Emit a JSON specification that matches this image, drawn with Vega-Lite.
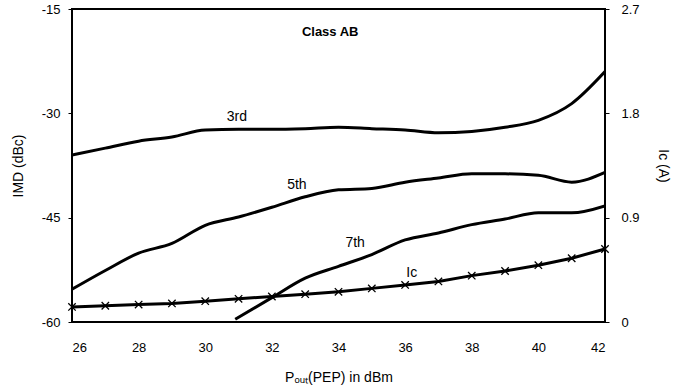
{
  "$schema": "https://vega.github.io/schema/vega-lite/v6.json",
  "width": 533,
  "height": 313,
  "autosize": "none",
  "padding": {"left": 72, "top": 9, "right": 68, "bottom": 70},
  "background": "white",
  "config": {
    "font": "Liberation Sans",
    "view": {"stroke": "black", "strokeWidth": 2},
    "axis": {"labelFontSize": 13, "titleFontSize": 14, "titleFontWeight": "normal", "labelColor": "black", "titleColor": "black", "grid": false, "domainColor": "black", "domainWidth": 2, "tickColor": "black"}
  },
  "datasets": {
    "imd": [
      {"x": 26, "s": "3rd", "v": -36.0}, {"x": 27, "s": "3rd", "v": -35.0}, {"x": 28, "s": "3rd", "v": -34.0}, {"x": 29, "s": "3rd", "v": -33.4}, {"x": 30, "s": "3rd", "v": -32.4}, {"x": 31, "s": "3rd", "v": -32.3}, {"x": 32, "s": "3rd", "v": -32.3}, {"x": 33, "s": "3rd", "v": -32.2}, {"x": 34, "s": "3rd", "v": -32.0}, {"x": 35, "s": "3rd", "v": -32.2}, {"x": 36, "s": "3rd", "v": -32.4}, {"x": 37, "s": "3rd", "v": -32.8}, {"x": 38, "s": "3rd", "v": -32.6}, {"x": 39, "s": "3rd", "v": -32.0}, {"x": 40, "s": "3rd", "v": -31.0}, {"x": 41, "s": "3rd", "v": -28.6}, {"x": 42, "s": "3rd", "v": -24.0},
      {"x": 26, "s": "5th", "v": -55.3}, {"x": 27, "s": "5th", "v": -52.6}, {"x": 28, "s": "5th", "v": -50.1}, {"x": 29, "s": "5th", "v": -48.7}, {"x": 30, "s": "5th", "v": -46.1}, {"x": 31, "s": "5th", "v": -44.9}, {"x": 32, "s": "5th", "v": -43.5}, {"x": 33, "s": "5th", "v": -42.0}, {"x": 34, "s": "5th", "v": -41.0}, {"x": 35, "s": "5th", "v": -40.8}, {"x": 36, "s": "5th", "v": -39.9}, {"x": 37, "s": "5th", "v": -39.3}, {"x": 38, "s": "5th", "v": -38.7}, {"x": 39, "s": "5th", "v": -38.7}, {"x": 40, "s": "5th", "v": -38.9}, {"x": 41, "s": "5th", "v": -39.9}, {"x": 42, "s": "5th", "v": -38.5},
      {"x": 30.9, "s": "7th", "v": -59.6}, {"x": 32, "s": "7th", "v": -56.5}, {"x": 33, "s": "7th", "v": -53.7}, {"x": 34, "s": "7th", "v": -52.0}, {"x": 35, "s": "7th", "v": -50.3}, {"x": 36, "s": "7th", "v": -48.2}, {"x": 37, "s": "7th", "v": -47.2}, {"x": 38, "s": "7th", "v": -46.0}, {"x": 39, "s": "7th", "v": -45.2}, {"x": 40, "s": "7th", "v": -44.3}, {"x": 41, "s": "7th", "v": -44.3}, {"x": 42, "s": "7th", "v": -43.3}
    ],
    "ic": [
      {"x": 26, "ic": 0.13}, {"x": 27, "ic": 0.14}, {"x": 28, "ic": 0.15}, {"x": 29, "ic": 0.16}, {"x": 30, "ic": 0.18}, {"x": 31, "ic": 0.20}, {"x": 32, "ic": 0.22}, {"x": 33, "ic": 0.24}, {"x": 34, "ic": 0.26}, {"x": 35, "ic": 0.29}, {"x": 36, "ic": 0.32}, {"x": 37, "ic": 0.35}, {"x": 38, "ic": 0.40}, {"x": 39, "ic": 0.44}, {"x": 40, "ic": 0.49}, {"x": 41, "ic": 0.55}, {"x": 42, "ic": 0.63}
    ],
    "labels": [
      {"x": 30.95, "v": -30.5, "t": "3rd"},
      {"x": 32.75, "v": -40.3, "t": "5th"},
      {"x": 34.5, "v": -48.6, "t": "7th"},
      {"x": 36.2, "v": -52.9, "t": "Ic"}
    ],
    "title": [
      {"x": 33.75, "v": -18.3, "t": "Class AB"}
    ]
  },
  "resolve": {"scale": {"y": "independent"}},
  "layer": [
    {
      "layer": [
        {
          "data": {"name": "imd"},
          "mark": {"type": "line", "color": "black", "strokeWidth": 3, "interpolate": "monotone", "clip": true},
          "encoding": {
            "x": {"field": "x", "type": "quantitative", "scale": {"domain": [26, 42], "nice": false, "zero": false},
                  "axis": {"values": [26, 28, 30, 32, 34, 36, 38, 40, 42], "title": "Pₒᵤₜ(PEP) in dBm", "labelPadding": 19, "tickSize": 0, "titlePadding": 16, "domain": false}},
            "y": {"field": "v", "type": "quantitative", "scale": {"domain": [-60, -15], "nice": false, "zero": false},
                  "axis": {"values": [-60, -45, -30, -15], "labelExpr": "replace(datum.label, '\u2212', '-')", "title": "IMD (dBc)", "tickSize": 4, "labelPadding": 8, "titlePadding": 16, "domain": false}},
            "detail": {"field": "s"}
          }
        },
        {
          "data": {"name": "labels"},
          "mark": {"type": "text", "fontSize": 14, "color": "black", "font": "Liberation Sans"},
          "encoding": {
            "x": {"field": "x", "type": "quantitative"},
            "y": {"field": "v", "type": "quantitative"},
            "text": {"field": "t"}
          }
        },
        {
          "data": {"name": "title"},
          "mark": {"type": "text", "fontSize": 13, "fontWeight": "bold", "color": "black", "font": "Liberation Sans"},
          "encoding": {
            "x": {"field": "x", "type": "quantitative"},
            "y": {"field": "v", "type": "quantitative"},
            "text": {"field": "t"}
          }
        }
      ]
    },
    {
      "layer": [
        {
          "data": {"name": "ic"},
          "mark": {"type": "line", "color": "black", "strokeWidth": 3},
          "encoding": {
            "x": {"field": "x", "type": "quantitative"},
            "y": {"field": "ic", "type": "quantitative", "scale": {"domain": [0, 2.7], "nice": false},
                  "axis": {"orient": "right", "values": [0, 0.9, 1.8, 2.7], "labelExpr": "datum.value == 0 ? '0' : format(datum.value, '.1f')", "title": "Ic (A)", "titleAngle": 90, "tickSize": 4, "labelPadding": 12, "titlePadding": 16, "domain": false}}
          }
        },
        {
          "data": {"name": "ic"},
          "mark": {"type": "point", "shape": "M-1,-1L1,1M-1,1L1,-1", "filled": false, "color": "black", "strokeWidth": 1.3, "size": 55, "opacity": 1},
          "encoding": {
            "x": {"field": "x", "type": "quantitative"},
            "y": {"field": "ic", "type": "quantitative"}
          }
        }
      ]
    }
  ]
}
